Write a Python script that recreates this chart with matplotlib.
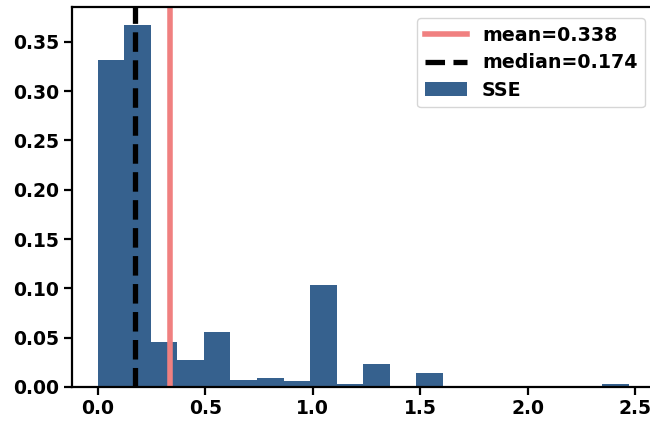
import numpy as np
import matplotlib
matplotlib.use("Agg")
import matplotlib.pyplot as plt

bin_edges = np.linspace(0.0, 2.47, 21)
bin_heights = [0.332, 0.367, 0.0453, 0.0277, 0.0555, 0.0067, 0.0088, 0.0057,
               0.1032, 0.0034, 0.0237, 0.0, 0.0145, 0.0, 0.0, 0.0, 0.0, 0.0,
               0.0, 0.0034]
mean_val = 0.338
median_val = 0.174

plt.rcParams['font.family'] = ['DejaVu Sans']
plt.rcParams['font.weight'] = 'bold'
plt.rcParams['font.size'] = 13.5

fig = plt.figure(figsize=(6.5, 4.22), dpi=100)
left_px, right_px = 71.5, 662
ax = fig.add_axes([left_px/650, 35/422, (right_px-left_px)/650, (415-35)/422])

centers = (bin_edges[:-1] + bin_edges[1:]) / 2
ax.hist(centers, bins=bin_edges, weights=bin_heights, color='#36618e', label='SSE')
ax.axvline(mean_val, color='#f08080', lw=4, label=f'mean={mean_val}')
ax.axvline(median_val, color='black', lw=3.8, ls='--', label=f'median={median_val}')

x0 = -0.1219
ax.set_xlim(x0, x0 + (right_px - left_px) / 215.0)
ax.set_xticks([0.0, 0.5, 1.0, 1.5, 2.0, 2.5])
ax.set_xticklabels(['0.0', '0.5', '1.0', '1.5', '2.0', '2.5'])
ax.set_yticks(np.arange(0, 0.36, 0.05))
ax.set_yticklabels([f'{v:.2f}' for v in np.arange(0, 0.36, 0.05)])

for s in ax.spines.values():
    s.set_linewidth(1.6)
ax.tick_params(width=1.6, length=5.5, labelsize=13.5)
for lbl in ax.get_xticklabels() + ax.get_yticklabels():
    lbl.set_fontweight('bold')

handles, labels = ax.get_legend_handles_labels()
order = [1, 2, 0]
ax.legend([handles[i] for i in order], [labels[i] for i in order],
          loc='upper right', prop={'weight': 'bold', 'size': 13.7},
          labelspacing=0.45, handlelength=2.2,
          bbox_to_anchor=(645/650, 1 - 18/422), bbox_transform=fig.transFigure,
          borderaxespad=0.0)

fig.savefig('out.png', dpi=100)
